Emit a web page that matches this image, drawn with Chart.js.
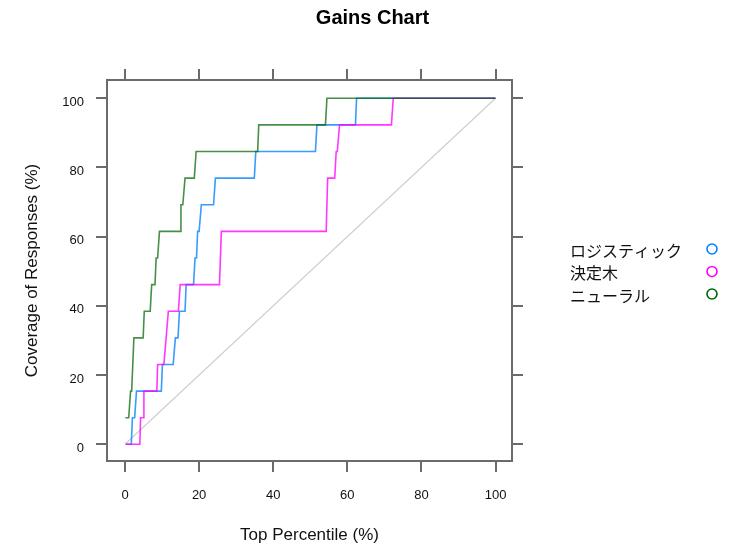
<!DOCTYPE html>
<html>
<head>
<meta charset="utf-8">
<script src="https://cdn.jsdelivr.net/npm/chart.js@4/dist/chart.umd.min.js"></script>
<style>
html,body{margin:0;padding:0;background:#fff;}
#wrap{width:729px;height:544px;position:relative;}
</style>
</head>
<body>
<div id="wrap"><canvas id="c" width="729" height="544"></canvas></div>
<script>
const chartTitle = 'Gains Chart';
const xTitle = 'Top Percentile (%)';
const yTitle = 'Coverage of Responses (%)';
const seriesLabels = ['ロジスティック', '決定木', 'ニューラル'];
const xTicks = [0, 20, 40, 60, 80, 100];
const yTicks = [0, 20, 40, 60, 80, 100];

const logisticX = [0.2, 1.7, 2.0, 2.6, 3.1, 9.8, 10.1, 13.0, 13.6, 14.3, 14.7, 16.2, 16.5, 18.5, 18.9, 19.3, 19.6, 20.0, 20.6, 23.9, 24.4, 34.9, 35.3, 51.4, 51.8, 62.2, 62.5, 100];
const logisticY = [0, 0, 7.69, 7.69, 15.38, 15.38, 23.08, 23.08, 30.77, 30.77, 38.46, 38.46, 46.15, 46.15, 53.85, 53.85, 61.54, 61.54, 69.23, 69.23, 76.92, 76.92, 84.62, 84.62, 92.31, 92.31, 100, 100];

const treeX = [0.2, 4.0, 4.2, 4.9, 5.1, 8.6, 8.8, 10.5, 11.7, 14.4, 14.9, 25.5, 26.0, 54.3, 54.7, 56.6, 57.0, 57.3, 57.9, 71.9, 72.4, 100];
const treeY = [0, 0, 7.69, 7.69, 15.38, 15.38, 23.08, 23.08, 38.46, 38.46, 46.15, 46.15, 61.54, 61.54, 76.92, 76.92, 84.62, 84.62, 92.31, 92.31, 100, 100];

const neuralX = [0.1, 1.0, 1.5, 1.8, 2.4, 4.9, 5.2, 6.8, 7.2, 8.1, 8.4, 8.8, 9.3, 14.9, 15.1, 15.6, 16.2, 18.7, 19.2, 35.8, 36.1, 54.1, 54.5, 100];
const neuralY = [7.69, 7.69, 15.38, 15.38, 30.77, 30.77, 38.46, 38.46, 46.15, 46.15, 53.85, 53.85, 61.54, 61.54, 69.23, 69.23, 76.92, 76.92, 84.62, 84.62, 92.31, 92.31, 100, 100];

const baselineX = [0, 100];
const baselineY = [0, 100];

const seriesColors = ['#0080ff', '#ff00ff', '#006400'];
const lineColors = ['rgba(0,128,255,0.78)', 'rgba(255,0,255,0.78)', 'rgba(0,100,0,0.72)'];

function pts(xs, ys) { return xs.map((x, i) => ({ x: x, y: ys[i] })); }

const axisColor = '#6b6b6b';
const tickFont = { family: '"Liberation Sans", Arial, sans-serif', size: 13 };
const titleFont = { family: '"Liberation Sans", Arial, sans-serif', size: 17, lineHeight: 1 };

const legendAndTitle = {
  id: 'legendAndTitle',
  afterDraw(chart) {
    const ctx = chart.ctx;
    ctx.save();
    ctx.fillStyle = '#000';
    ctx.font = 'bold 20px "Liberation Sans", Arial, sans-serif';
    ctx.textAlign = 'center';
    ctx.textBaseline = 'middle';
    ctx.fillText(chartTitle, 372.5, 18);
    const rows = [249, 271.5, 294];
    ctx.font = '16px "Noto Sans CJK JP", sans-serif';
    ctx.textAlign = 'left';
    seriesLabels.forEach((lab, i) => {
      ctx.fillStyle = '#111';
      ctx.fillText(lab, 570, rows[i] + 1.5);
      ctx.beginPath();
      ctx.strokeStyle = seriesColors[i];
      ctx.lineWidth = 1.6;
      ctx.arc(712, rows[i], 5, 0, Math.PI * 2);
      ctx.stroke();
    });
    ctx.restore();
  }
};

function axisCommon(extra) {
  return Object.assign({
    type: 'linear',
    grid: { drawOnChartArea: false, drawTicks: true, tickLength: 11, color: axisColor, lineWidth: 2 },
    border: { display: true, color: axisColor, width: 2 },
  }, extra);
}

new Chart(document.getElementById('c'), {
  type: 'scatter',
  data: {
    datasets: [
      { label: 'baseline', data: pts(baselineX, baselineY), showLine: true, borderColor: '#cfcfcf', borderWidth: 1.2, pointRadius: 0, order: 4 },
      { label: seriesLabels[0], data: pts(logisticX, logisticY), showLine: true, borderColor: lineColors[0], borderWidth: 1.6, pointRadius: 0, order: 3 },
      { label: seriesLabels[1], data: pts(treeX, treeY), showLine: true, borderColor: lineColors[1], borderWidth: 1.6, pointRadius: 0, order: 2 },
      { label: seriesLabels[2], data: pts(neuralX, neuralY), showLine: true, borderColor: lineColors[2], borderWidth: 1.6, pointRadius: 0, order: 1 }
    ]
  },
  options: {
    responsive: false,
    animation: false,
    devicePixelRatio: 1,
    layout: { padding: 0 },
    plugins: { legend: { display: false }, title: { display: false }, tooltip: { enabled: false } },
    scales: {
      x: axisCommon({
        position: 'bottom', min: -4.86, max: 104.45,
        afterBuildTicks: s => { s.ticks = xTicks.map(v => ({ value: v })); },
        afterFit: s => { s.height = 83; },
        ticks: { font: tickFont, color: '#111', padding: 16, maxRotation: 0, autoSkip: false },
        title: { display: true, text: xTitle, font: titleFont, color: '#111', padding: { top: 0, bottom: 0 } }
      }),
      x2: axisCommon({
        position: 'top', min: -4.86, max: 104.45,
        afterBuildTicks: s => { s.ticks = xTicks.map(v => ({ value: v })); },
        afterFit: s => { s.height = 80; },
        ticks: { display: false }
      }),
      y: axisCommon({
        position: 'left', min: -4.83, max: 105.29,
        afterBuildTicks: s => { s.ticks = yTicks.map(v => ({ value: v })); },
        afterFit: s => { s.width = 107; },
        ticks: { font: tickFont, color: '#111', padding: 12, labelOffset: 4, autoSkip: false },
        title: { display: true, text: yTitle, font: titleFont, color: '#111', padding: { top: 24, bottom: 0 } }
      }),
      y2: axisCommon({
        position: 'right', min: -4.83, max: 105.29,
        afterBuildTicks: s => { s.ticks = yTicks.map(v => ({ value: v })); },
        afterFit: s => { s.width = 217; },
        ticks: { display: false }
      })
    }
  },
  plugins: [legendAndTitle]
});
</script>
</body>
</html>
